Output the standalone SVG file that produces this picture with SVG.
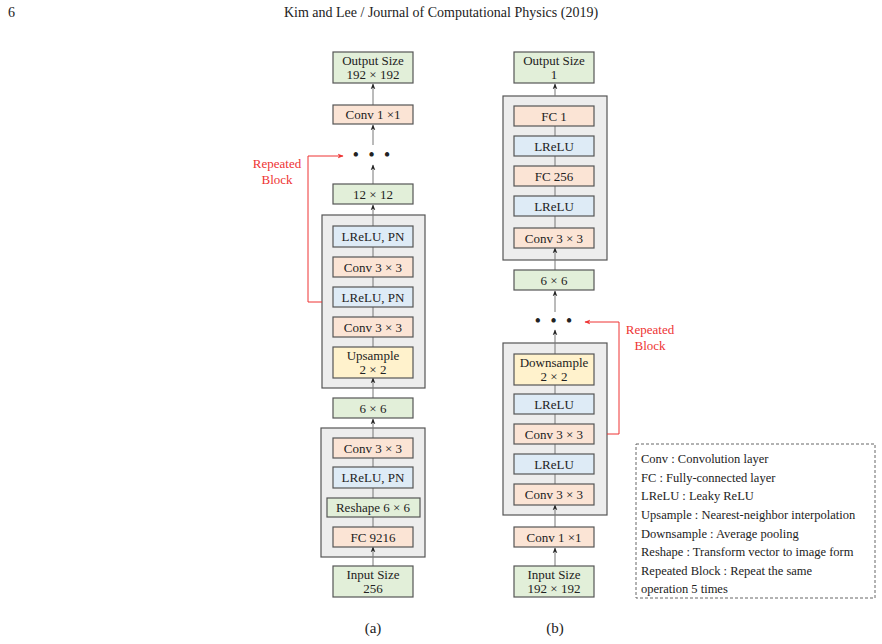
<svg xmlns="http://www.w3.org/2000/svg" width="882" height="644" viewBox="0 0 882 644">
<defs>
<marker id="ah" viewBox="0 0 10 10" refX="9" refY="5" markerWidth="6" markerHeight="6" orient="auto-start-reverse"><path d="M0,1 L10,5 L0,9 L3,5 z" fill="#222"/></marker>
<marker id="ar" viewBox="0 0 10 10" refX="9" refY="5" markerWidth="6" markerHeight="6" orient="auto"><path d="M0,1 L10,5 L0,9 L3,5 z" fill="#e33"/></marker>
<style>
text{font-family:"Liberation Serif",serif;font-size:13px;fill:#222;text-anchor:middle}
.g{fill:#e2efd9;stroke:#555;stroke-width:1.2}
.o{fill:#fbe4d5;stroke:#555;stroke-width:1.2}
.b{fill:#deebf6;stroke:#555;stroke-width:1.2}
.y{fill:#fff2cc;stroke:#555;stroke-width:1.2}
.blk{fill:#ededed;stroke:#555;stroke-width:1.2}
.ln{stroke:#777;stroke-width:1;fill:none}
.ar{stroke:#777;stroke-width:1;fill:none;marker-end:url(#ah)}
.red{stroke:#e33;stroke-width:1;fill:none;marker-end:url(#ar)}
.rt{fill:#e33}
.lg{text-anchor:start;font-size:12.5px}
</style>
</defs>
<rect width="882" height="644" fill="#fff"/>
<text x="8" y="17" style="text-anchor:start;font-size:14px">6</text>
<text x="441" y="17" style="font-size:14px">Kim and Lee / Journal of Computational Physics (2019)</text>

<g id="blocks">
<rect id="blockA1" class="blk" x="322" y="215" width="103" height="173"/>
<rect id="blockA2" class="blk" x="321" y="428" width="104" height="129"/>
<rect id="blockB1" class="blk" x="503" y="96" width="104" height="164"/>
<rect id="blockB2" class="blk" x="503" y="343" width="104" height="172"/>
</g>

<g id="connectors">
<line class="ar" x1="373" y1="105" x2="373" y2="84"/>
<line class="ar" x1="373" y1="145" x2="373" y2="125"/>
<line class="ar" x1="373" y1="184" x2="373" y2="165"/>
<line class="ar" x1="373" y1="226" x2="373" y2="205"/>
<line class="ln" x1="373" y1="247" x2="373" y2="257"/>
<line class="ln" x1="373" y1="277" x2="373" y2="287"/>
<line class="ln" x1="373" y1="307" x2="373" y2="317"/>
<line class="ln" x1="373" y1="337" x2="373" y2="347"/>
<line class="ar" x1="373" y1="398" x2="373" y2="378"/>
<line class="ar" x1="373" y1="438" x2="373" y2="419"/>
<line class="ln" x1="373" y1="458" x2="373" y2="467"/>
<line class="ln" x1="373" y1="488" x2="373" y2="498"/>
<line class="ln" x1="373" y1="517" x2="373" y2="527"/>
<line class="ar" x1="373" y1="566" x2="373" y2="547"/>
<polyline class="red" points="322,302 308,302 308,156 343,156"/>

<line class="ar" x1="555" y1="96" x2="555" y2="84"/>
<line class="ln" x1="555" y1="126" x2="555" y2="136"/>
<line class="ln" x1="555" y1="156" x2="555" y2="166"/>
<line class="ln" x1="555" y1="186" x2="555" y2="196"/>
<line class="ln" x1="555" y1="216" x2="555" y2="228"/>
<line class="ar" x1="555" y1="270" x2="555" y2="248"/>
<line class="ar" x1="555" y1="312" x2="555" y2="291"/>
<line class="ar" x1="555" y1="354" x2="555" y2="330"/>
<line class="ln" x1="555" y1="385" x2="555" y2="394"/>
<line class="ln" x1="555" y1="414" x2="555" y2="424"/>
<line class="ln" x1="555" y1="444" x2="555" y2="454"/>
<line class="ln" x1="555" y1="474" x2="555" y2="484"/>
<line class="ar" x1="555" y1="527" x2="555" y2="505"/>
<line class="ar" x1="555" y1="566" x2="555" y2="548"/>
<polyline class="red" points="607,434 619,434 619,322 585,322"/>
</g>

<g id="a-out"><rect class="g" x="333" y="52" width="80" height="31"/><text x="373" y="65">Output Size</text><text x="373" y="79">192 × 192</text></g>
<g id="a-conv11"><rect class="o" x="333" y="105" width="80" height="19"/><text x="373" y="119">Conv 1 ×1</text></g>
<g id="a-dots"><text x="373" y="160" style="font-size:16px;font-weight:bold;letter-spacing:3px">• • •</text></g>
<g id="a-12"><rect class="g" x="333" y="184" width="80" height="20"/><text x="373" y="199">12 × 12</text></g>
<g id="a-l1"><rect class="b" x="333" y="226" width="80" height="21"/><text x="373" y="241">LReLU, PN</text></g>
<g id="a-c1"><rect class="o" x="333" y="257" width="80" height="20"/><text x="373" y="272">Conv 3 × 3</text></g>
<g id="a-l2"><rect class="b" x="333" y="287" width="80" height="20"/><text x="373" y="302">LReLU, PN</text></g>
<g id="a-c2"><rect class="o" x="333" y="317" width="80" height="20"/><text x="373" y="332">Conv 3 × 3</text></g>
<g id="a-up"><rect class="y" x="333" y="347" width="80" height="31"/><text x="373" y="360">Upsample</text><text x="373" y="374">2 × 2</text></g>
<g id="a-6"><rect class="g" x="333" y="398" width="80" height="20"/><text x="373" y="413">6 × 6</text></g>
<g id="a-c3"><rect class="o" x="333" y="438" width="80" height="20"/><text x="373" y="453">Conv 3 × 3</text></g>
<g id="a-l3"><rect class="b" x="333" y="467" width="80" height="21"/><text x="373" y="482">LReLU, PN</text></g>
<g id="a-rs"><rect class="g" x="327" y="498" width="93" height="19"/><text x="373" y="512">Reshape 6 × 6</text></g>
<g id="a-fc"><rect class="o" x="333" y="527" width="80" height="20"/><text x="373" y="542">FC 9216</text></g>
<g id="a-in"><rect class="g" x="333" y="566" width="80" height="31"/><text x="373" y="579">Input Size</text><text x="373" y="593">256</text></g>
<g id="a-rep"><text class="rt" x="277" y="168">Repeated</text><text class="rt" x="277" y="184">Block</text></g>

<g id="b-out"><rect class="g" x="514" y="52" width="80" height="31"/><text x="554" y="65">Output Size</text><text x="554" y="79">1</text></g>
<g id="b-fc1"><rect class="o" x="514" y="106" width="80" height="20"/><text x="554" y="121">FC 1</text></g>
<g id="b-l1"><rect class="b" x="514" y="136" width="80" height="20"/><text x="554" y="151">LReLU</text></g>
<g id="b-fc256"><rect class="o" x="514" y="166" width="80" height="20"/><text x="554" y="181">FC 256</text></g>
<g id="b-l2"><rect class="b" x="514" y="196" width="80" height="20"/><text x="554" y="211">LReLU</text></g>
<g id="b-c1"><rect class="o" x="514" y="228" width="80" height="20"/><text x="554" y="243">Conv 3 × 3</text></g>
<g id="b-6"><rect class="g" x="514" y="270" width="80" height="20"/><text x="554" y="285">6 × 6</text></g>
<g id="b-dots"><text x="555" y="326" style="font-size:16px;font-weight:bold;letter-spacing:3px">• • •</text></g>
<g id="b-down"><rect class="y" x="514" y="354" width="80" height="31"/><text x="554" y="367">Downsample</text><text x="554" y="381">2 × 2</text></g>
<g id="b-l3"><rect class="b" x="514" y="394" width="80" height="20"/><text x="554" y="409">LReLU</text></g>
<g id="b-c2"><rect class="o" x="514" y="424" width="80" height="20"/><text x="554" y="439">Conv 3 × 3</text></g>
<g id="b-l4"><rect class="b" x="514" y="454" width="80" height="20"/><text x="554" y="469">LReLU</text></g>
<g id="b-c3"><rect class="o" x="514" y="484" width="80" height="21"/><text x="554" y="499">Conv 3 × 3</text></g>
<g id="b-c11"><rect class="o" x="514" y="527" width="80" height="20"/><text x="554" y="542">Conv 1 ×1</text></g>
<g id="b-in"><rect class="g" x="514" y="566" width="80" height="31"/><text x="554" y="579">Input Size</text><text x="554" y="593">192 × 192</text></g>
<g id="b-rep"><text class="rt" x="650" y="334">Repeated</text><text class="rt" x="650" y="350">Block</text></g>

<g id="legend">
<rect x="636" y="444" width="239" height="154" fill="none" stroke="#666" stroke-dasharray="3,2"/>
<text class="lg" x="641" y="463">Conv : Convolution layer</text>
<text class="lg" x="641" y="482">FC : Fully-connected layer</text>
<text class="lg" x="641" y="500">LReLU : Leaky ReLU</text>
<text class="lg" x="641" y="519">Upsample : Nearest-neighbor interpolation</text>
<text class="lg" x="641" y="538">Downsample : Average pooling</text>
<text class="lg" x="641" y="556">Reshape : Transform vector to image form</text>
<text class="lg" x="641" y="575">Repeated Block : Repeat the same</text>
<text class="lg" x="641" y="593">operation 5 times</text>
</g>
<text x="373" y="633" style="font-size:15px">(a)</text>
<text x="555" y="633" style="font-size:15px">(b)</text>
</svg>
